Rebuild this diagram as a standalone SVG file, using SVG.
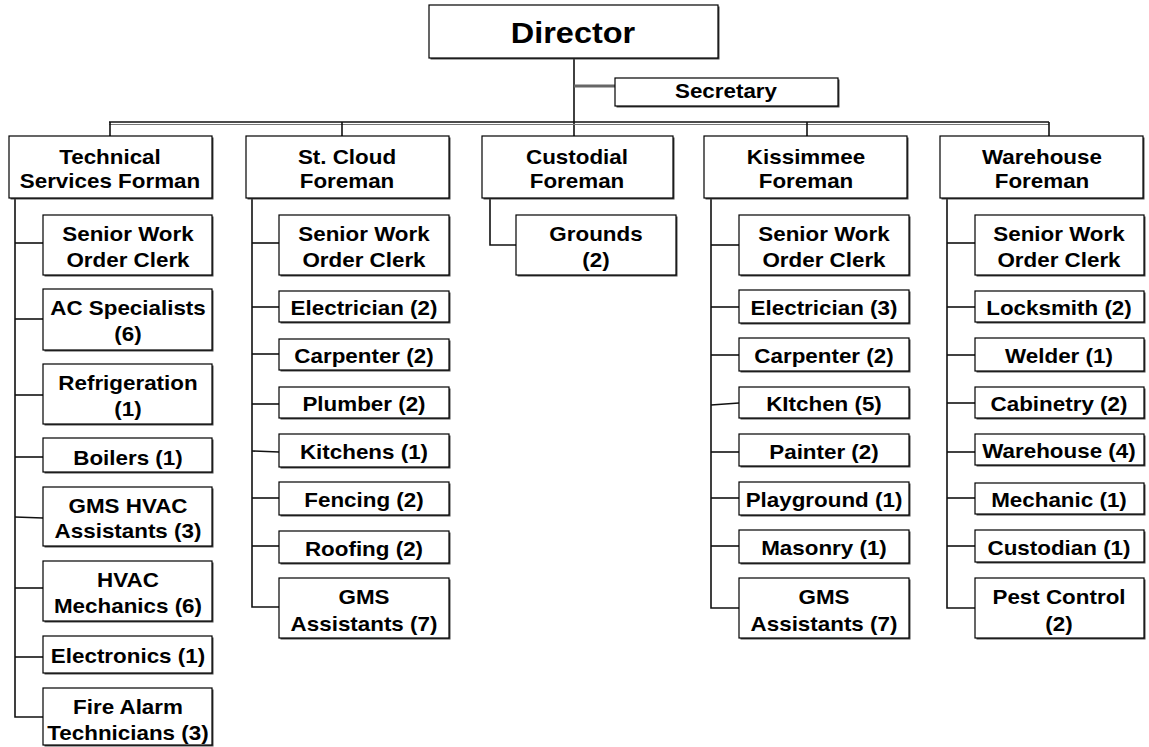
<svg xmlns="http://www.w3.org/2000/svg" width="1149" height="747" viewBox="0 0 1149 747">
  <style>
    .box { fill: #ffffff; stroke: #000000; stroke-width: 1.2; }
    .sh { fill: #4a4a4a; }
    .t { font-family: "Liberation Sans", Arial, sans-serif; font-weight: bold; font-size: 20px; fill: #000000; text-anchor: middle; transform-box: fill-box; transform-origin: center; transform: scaleX(1.12); }
    .big { font-size: 29px; }
    .wire { stroke: #111111; stroke-width: 1.6; fill: none; }
    .wire2 { stroke: #777777; stroke-width: 1.2; fill: none; }
  </style>
  <rect width="1149" height="747" fill="#ffffff"/>

  <!-- connectors -->
  <g id="connectors">
    <!-- director trunk and secretary branch -->
    <line class="wire" x1="574" y1="58" x2="574" y2="136"/>
    <line x1="574" y1="86" x2="615" y2="86" stroke="#666666" stroke-width="3"/>
    <!-- main bus -->
    <line class="wire" x1="109" y1="122" x2="1049" y2="122"/>
    <line class="wire2" x1="109" y1="124.5" x2="1049" y2="124.5"/>
    <!-- drops to foremen -->
    <line class="wire" x1="110" y1="122" x2="110" y2="136"/>
    <line class="wire" x1="342" y1="122" x2="342" y2="136"/>
    <line class="wire" x1="807" y1="122" x2="807" y2="136"/>
    <line class="wire" x1="1049" y1="122" x2="1049" y2="136"/>

    <!-- technical services spine -->
    <polyline class="wire" points="15,198 15,717 43,717"/>
    <line class="wire" x1="15" y1="243" x2="43" y2="243"/>
    <line class="wire" x1="15" y1="319" x2="43" y2="319"/>
    <line class="wire" x1="15" y1="395" x2="43" y2="395"/>
    <line class="wire" x1="15" y1="457" x2="43" y2="457"/>
    <line class="wire" x1="15" y1="517" x2="43" y2="518"/>
    <line class="wire" x1="15" y1="588" x2="43" y2="588"/>
    <line class="wire" x1="15" y1="657" x2="43" y2="657"/>

    <!-- st. cloud spine -->
    <polyline class="wire" points="252,198 252,607 279,607"/>
    <line class="wire" x1="252" y1="243" x2="279" y2="243"/>
    <line class="wire" x1="252" y1="307" x2="279" y2="307"/>
    <line class="wire" x1="252" y1="354" x2="279" y2="354"/>
    <line class="wire" x1="252" y1="404" x2="279" y2="404"/>
    <line class="wire" x1="252" y1="451" x2="279" y2="452"/>
    <line class="wire" x1="252" y1="498" x2="279" y2="498"/>
    <line class="wire" x1="252" y1="546" x2="279" y2="546"/>

    <!-- custodial -->
    <polyline class="wire" points="490,198 490,245 516,245"/>

    <!-- kissimmee spine -->
    <polyline class="wire" points="711,198 711,608 739,608"/>
    <line class="wire" x1="711" y1="245" x2="739" y2="245"/>
    <line class="wire" x1="711" y1="307" x2="739" y2="307"/>
    <line class="wire" x1="711" y1="355" x2="739" y2="355"/>
    <line class="wire" x1="711" y1="405" x2="739" y2="403"/>
    <line class="wire" x1="711" y1="452" x2="739" y2="452"/>
    <line class="wire" x1="711" y1="498" x2="739" y2="498"/>
    <line class="wire" x1="711" y1="546" x2="739" y2="546"/>

    <!-- warehouse spine -->
    <polyline class="wire" points="947,198 947,608 975,608"/>
    <line class="wire" x1="947" y1="243" x2="975" y2="243"/>
    <line class="wire" x1="947" y1="307" x2="975" y2="307"/>
    <line class="wire" x1="947" y1="355" x2="975" y2="355"/>
    <line class="wire" x1="947" y1="403" x2="975" y2="403"/>
    <line class="wire" x1="947" y1="452" x2="975" y2="452"/>
    <line class="wire" x1="947" y1="498" x2="975" y2="498"/>
    <line class="wire" x1="947" y1="546" x2="975" y2="546"/>
  </g>

  <!-- top level -->
  <g id="director"><rect class="sh" x="430.5" y="6.5" width="289" height="53"/><rect class="box" x="429" y="5" width="289" height="53"/><text class="t big" x="573" y="43">Director</text></g>
  <g id="secretary"><rect class="sh" x="616.5" y="79.5" width="223" height="28"/><rect class="box" x="615" y="78" width="223" height="28"/><text class="t" x="726" y="98">Secretary</text></g>

  <!-- foremen -->
  <g id="technical-foreman"><rect class="sh" x="10.5" y="137.5" width="203" height="62"/><rect class="box" x="9" y="136" width="203" height="62"/><text class="t" x="110" y="164">Technical</text><text class="t" x="110" y="188">Services Forman</text></g>
  <g id="stcloud-foreman"><rect class="sh" x="247.5" y="137.5" width="203" height="62"/><rect class="box" x="246" y="136" width="203" height="62"/><text class="t" x="347" y="164">St. Cloud</text><text class="t" x="347" y="188">Foreman</text></g>
  <g id="custodial-foreman"><rect class="sh" x="483.5" y="137.5" width="191" height="62"/><rect class="box" x="482" y="136" width="191" height="62"/><text class="t" x="577" y="164">Custodial</text><text class="t" x="577" y="188">Foreman</text></g>
  <g id="kissimmee-foreman"><rect class="sh" x="705.5" y="137.5" width="203" height="62"/><rect class="box" x="704" y="136" width="203" height="62"/><text class="t" x="806" y="164">Kissimmee</text><text class="t" x="806" y="188">Foreman</text></g>
  <g id="warehouse-foreman"><rect class="sh" x="941.5" y="137.5" width="203" height="62"/><rect class="box" x="940" y="136" width="203" height="62"/><text class="t" x="1042" y="164">Warehouse</text><text class="t" x="1042" y="188">Foreman</text></g>

  <!-- technical services staff -->
  <g id="ts-clerk"><rect class="sh" x="44.5" y="216.5" width="169" height="60"/><rect class="box" x="43" y="215" width="169" height="60"/><text class="t" x="128" y="241">Senior Work</text><text class="t" x="128" y="267">Order Clerk</text></g>
  <g id="ts-ac"><rect class="sh" x="44.5" y="290.5" width="169" height="61"/><rect class="box" x="43" y="289" width="169" height="61"/><text class="t" x="128" y="315">AC Specialists</text><text class="t" x="128" y="341">(6)</text></g>
  <g id="ts-refrigeration"><rect class="sh" x="44.5" y="365.5" width="169" height="60"/><rect class="box" x="43" y="364" width="169" height="60"/><text class="t" x="128" y="390">Refrigeration</text><text class="t" x="128" y="416">(1)</text></g>
  <g id="ts-boilers"><rect class="sh" x="44.5" y="439.5" width="169" height="34"/><rect class="box" x="43" y="438" width="169" height="34"/><text class="t" x="128" y="465">Boilers (1)</text></g>
  <g id="ts-gms-hvac"><rect class="sh" x="44.5" y="488.5" width="169" height="59"/><rect class="box" x="43" y="487" width="169" height="59"/><text class="t" x="128" y="513">GMS HVAC</text><text class="t" x="128" y="538">Assistants (3)</text></g>
  <g id="ts-hvac-mech"><rect class="sh" x="44.5" y="562.5" width="169" height="60"/><rect class="box" x="43" y="561" width="169" height="60"/><text class="t" x="128" y="587">HVAC</text><text class="t" x="128" y="613">Mechanics (6)</text></g>
  <g id="ts-electronics"><rect class="sh" x="44.5" y="637.5" width="169" height="37"/><rect class="box" x="43" y="636" width="169" height="37"/><text class="t" x="128" y="663">Electronics (1)</text></g>
  <g id="ts-fire"><rect class="sh" x="44.5" y="689.5" width="169" height="57"/><rect class="box" x="43" y="688" width="169" height="57"/><text class="t" x="128" y="714">Fire Alarm</text><text class="t" x="128" y="740">Technicians (3)</text></g>

  <!-- st. cloud staff -->
  <g id="sc-clerk"><rect class="sh" x="280.5" y="216.5" width="170" height="60"/><rect class="box" x="279" y="215" width="170" height="60"/><text class="t" x="364" y="241">Senior Work</text><text class="t" x="364" y="267">Order Clerk</text></g>
  <g id="sc-electrician"><rect class="sh" x="280.5" y="292.5" width="170" height="31"/><rect class="box" x="279" y="291" width="170" height="31"/><text class="t" x="364" y="315.5">Electrician (2)</text></g>
  <g id="sc-carpenter"><rect class="sh" x="280.5" y="340.5" width="170" height="31"/><rect class="box" x="279" y="339" width="170" height="31"/><text class="t" x="364" y="363.5">Carpenter (2)</text></g>
  <g id="sc-plumber"><rect class="sh" x="280.5" y="388.5" width="170" height="31"/><rect class="box" x="279" y="387" width="170" height="31"/><text class="t" x="364" y="411.5">Plumber (2)</text></g>
  <g id="sc-kitchens"><rect class="sh" x="280.5" y="435.5" width="170" height="33"/><rect class="box" x="279" y="434" width="170" height="33"/><text class="t" x="364" y="459.5">Kitchens (1)</text></g>
  <g id="sc-fencing"><rect class="sh" x="280.5" y="483.5" width="170" height="33"/><rect class="box" x="279" y="482" width="170" height="33"/><text class="t" x="364" y="507.5">Fencing (2)</text></g>
  <g id="sc-roofing"><rect class="sh" x="280.5" y="532.5" width="170" height="32"/><rect class="box" x="279" y="531" width="170" height="32"/><text class="t" x="364" y="556">Roofing (2)</text></g>
  <g id="sc-gms"><rect class="sh" x="280.5" y="579.5" width="170" height="60"/><rect class="box" x="279" y="578" width="170" height="60"/><text class="t" x="364" y="604">GMS</text><text class="t" x="364" y="631">Assistants (7)</text></g>

  <!-- custodial staff -->
  <g id="cu-grounds"><rect class="sh" x="517.5" y="216.5" width="160" height="60"/><rect class="box" x="516" y="215" width="160" height="60"/><text class="t" x="596" y="241">Grounds</text><text class="t" x="596" y="267">(2)</text></g>

  <!-- kissimmee staff -->
  <g id="ki-clerk"><rect class="sh" x="740.5" y="216.5" width="170" height="60"/><rect class="box" x="739" y="215" width="170" height="60"/><text class="t" x="824" y="241">Senior Work</text><text class="t" x="824" y="267">Order Clerk</text></g>
  <g id="ki-electrician"><rect class="sh" x="740.5" y="291.5" width="170" height="33"/><rect class="box" x="739" y="290" width="170" height="33"/><text class="t" x="824" y="315.5">Electrician (3)</text></g>
  <g id="ki-carpenter"><rect class="sh" x="740.5" y="339.5" width="170" height="33"/><rect class="box" x="739" y="338" width="170" height="33"/><text class="t" x="824" y="363.5">Carpenter (2)</text></g>
  <g id="ki-kitchen"><rect class="sh" x="740.5" y="388.5" width="170" height="31"/><rect class="box" x="739" y="387" width="170" height="31"/><text class="t" x="824" y="411.5">KItchen (5)</text></g>
  <g id="ki-painter"><rect class="sh" x="740.5" y="435.5" width="170" height="32"/><rect class="box" x="739" y="434" width="170" height="32"/><text class="t" x="824" y="459">Painter (2)</text></g>
  <g id="ki-playground"><rect class="sh" x="740.5" y="483.5" width="170" height="33"/><rect class="box" x="739" y="482" width="170" height="33"/><text class="t" x="824" y="507.5">Playground (1)</text></g>
  <g id="ki-masonry"><rect class="sh" x="740.5" y="531.5" width="170" height="33"/><rect class="box" x="739" y="530" width="170" height="33"/><text class="t" x="824" y="555.5">Masonry (1)</text></g>
  <g id="ki-gms"><rect class="sh" x="740.5" y="579.5" width="170" height="60"/><rect class="box" x="739" y="578" width="170" height="60"/><text class="t" x="824" y="604">GMS</text><text class="t" x="824" y="631">Assistants (7)</text></g>

  <!-- warehouse staff -->
  <g id="wh-clerk"><rect class="sh" x="976.5" y="216.5" width="169" height="60"/><rect class="box" x="975" y="215" width="169" height="60"/><text class="t" x="1059" y="241">Senior Work</text><text class="t" x="1059" y="267">Order Clerk</text></g>
  <g id="wh-locksmith"><rect class="sh" x="976.5" y="292.5" width="169" height="31"/><rect class="box" x="975" y="291" width="169" height="31"/><text class="t" x="1059" y="315.5">Locksmith (2)</text></g>
  <g id="wh-welder"><rect class="sh" x="976.5" y="339.5" width="169" height="33"/><rect class="box" x="975" y="338" width="169" height="33"/><text class="t" x="1059" y="363.5">Welder (1)</text></g>
  <g id="wh-cabinetry"><rect class="sh" x="976.5" y="388.5" width="169" height="31"/><rect class="box" x="975" y="387" width="169" height="31"/><text class="t" x="1059" y="411.5">Cabinetry (2)</text></g>
  <g id="wh-warehouse"><rect class="sh" x="976.5" y="435.5" width="169" height="31"/><rect class="box" x="975" y="434" width="169" height="31"/><text class="t" x="1059" y="458.5">Warehouse (4)</text></g>
  <g id="wh-mechanic"><rect class="sh" x="976.5" y="484.5" width="169" height="31"/><rect class="box" x="975" y="483" width="169" height="31"/><text class="t" x="1059" y="507.5">Mechanic (1)</text></g>
  <g id="wh-custodian"><rect class="sh" x="976.5" y="531.5" width="169" height="32"/><rect class="box" x="975" y="530" width="169" height="32"/><text class="t" x="1059" y="555">Custodian (1)</text></g>
  <g id="wh-pest"><rect class="sh" x="976.5" y="579.5" width="169" height="60"/><rect class="box" x="975" y="578" width="169" height="60"/><text class="t" x="1059" y="604">Pest Control</text><text class="t" x="1059" y="631">(2)</text></g>
</svg>
